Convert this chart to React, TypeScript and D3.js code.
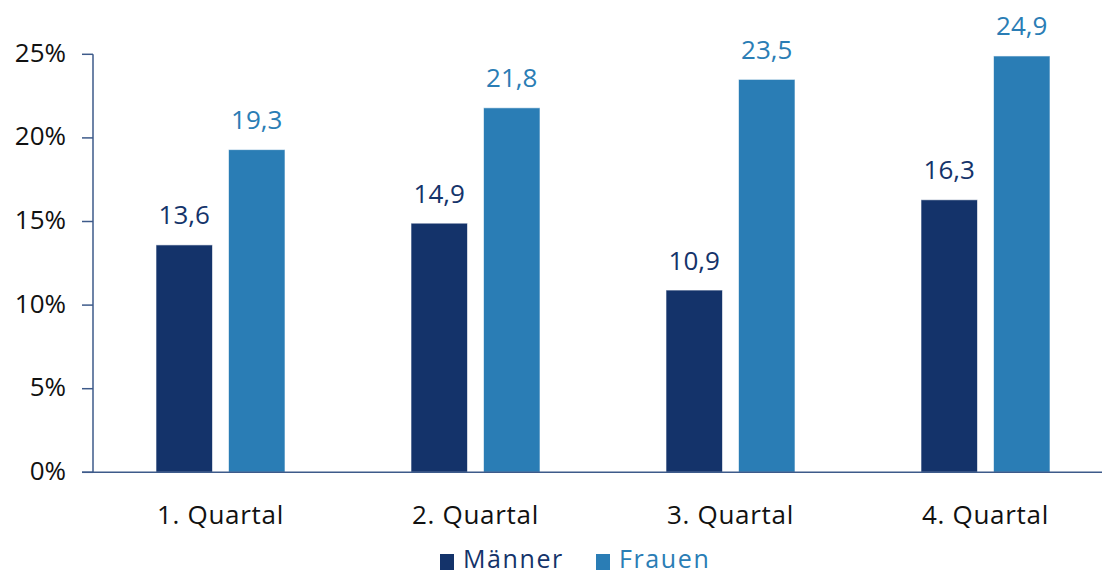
import React from "react";
import * as d3 from "d3";

const categories = ["1. Quartal", "2. Quartal", "3. Quartal", "4. Quartal"];
const seriesNames = ["Männer", "Frauen"];
const maenner = [13.6, 14.9, 10.9, 16.3];
const frauen = [19.3, 21.8, 23.5, 24.9];
const yTicks = [0, 5, 10, 15, 20, 25];

const W = 1102;
const H = 576;
const colors = ["#14336a", "#2a7db5"];
const font = "'Open Sans', 'Noto Sans', sans-serif";

export default function App() {
  const x0 = 93;
  const x = d3.scaleBand<string>().domain(categories).range([x0, x0 + 1020]);
  const y = d3.scaleLinear().domain([0, 25]).range([472.3, 54.3]);
  const barW = 56.5;
  const gap = 16;
  const series = [maenner, frauen];

  return (
    <svg width={W} height={H} style={{ position: "absolute", left: 0, top: 0 }} fontFamily={font}>
      {/* y axis */}
      <line x1={x0} x2={x0} y1={y(25)} y2={y(0)} stroke="#3d5a8a" strokeWidth={1.5} />
      {yTicks.map((t) => (
        <g key={t}>
          <line x1={x0 - 11} x2={x0} y1={y(t)} y2={y(t)} stroke="#3d5a8a" strokeWidth={1.5} />
          <text x={66} y={y(t) + 7.5} textAnchor="end" fontSize={26} fill="#111">
            {t}%
          </text>
        </g>
      ))}
      {/* bars */}
      {categories.map((c, i) => {
        const cx = (x(c) as number) + x.bandwidth() / 2;
        return (
          <g key={c}>
            {series.map((s, j) => {
              const bx = j === 0 ? cx - gap / 2 - barW : cx + gap / 2;
              return (
                <g key={j}>
                  <rect
                    x={bx}
                    y={y(s[i])}
                    width={barW}
                    height={y(0) - y(s[i])}
                    fill={colors[j]}
                    stroke="#ffffff"
                    strokeOpacity={0.6}
                    strokeWidth={1}
                  />
                  <text
                    x={bx + barW / 2}
                    y={y(s[i]) - 20.5}
                    textAnchor="middle"
                    fontSize={26}
                    fill={colors[j]}
                  >
                    {s[i].toFixed(1).replace(".", ",")}
                  </text>
                </g>
              );
            })}
            <text x={cx} y={524} textAnchor="middle" fontSize={26} letterSpacing={0.7} fill="#111">
              {c}
            </text>
          </g>
        );
      })}
      {/* baseline */}
      <line x1={x0 - 11} x2={W} y1={y(0)} y2={y(0)} stroke="#3d5a8a" strokeWidth={1.5} />
      {/* legend */}
      {seriesNames.map((n, j) => {
        const lx = j === 0 ? 440 : 596;
        return (
          <g key={n}>
            <rect x={lx} y={554} width={14} height={16} fill={colors[j]} />
            <text x={lx + 23} y={568} fontSize={25} letterSpacing={1.6} fill={colors[j]}>
              {n}
            </text>
          </g>
        );
      })}
    </svg>
  );
}
